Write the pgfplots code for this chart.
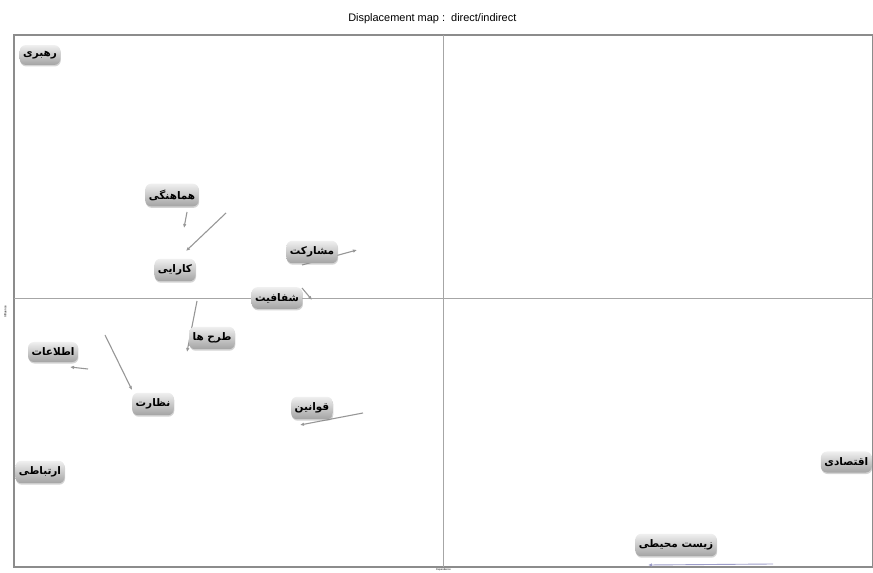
\documentclass[border=0pt]{standalone}
\usepackage{fontspec}
\setmainfont{Liberation Sans}
\newfontfamily\arabicfont[Script=Arabic]{DejaVu Sans}
\TeXXeTstate=1
\usepackage{pgfplots}
\pgfplotsset{compat=1.18}
\usetikzlibrary{shadows,arrows.meta}
\newcommand\ar[1]{{\arabicfont\bfseries\fontsize{10.5}{12}\selectfont\beginR #1\endR}}
\definecolor{boxc}{RGB}{140,140,140}
\definecolor{arrc}{RGB}{150,150,150}
\begin{document}
\begin{tikzpicture}[
  lbl/.style={draw=none, rounded corners=6pt, top color=gray!12, bottom color=gray!72,
    drop shadow={opacity=0.35, shadow xshift=0.5pt, shadow yshift=-1.5pt},
    inner xsep=3.5pt, inner ysep=6pt, text=black}]
\begin{axis}[
  scale only axis, width=859bp, height=532bp,
  xmin=0, xmax=859, ymin=0, ymax=532,
  axis line style={draw=boxc, line width=1.6pt},
  ticks=none, clip=false,
  title={Displacement map :\ \ direct/indirect},
  title style={font=\fontsize{11}{12}\selectfont, at={(axis description cs:0.487,1)}, yshift=2bp},
  xlabel={Dependence}, ylabel={Influence},
  xlabel style={font=\fontsize{2.6}{2.6}\selectfont, at={(axis description cs:0.5,0)}, anchor=north, inner sep=0pt, yshift=-1.2bp},
  ylabel style={font=\fontsize{3}{3}\selectfont, at={(axis description cs:0,0.48)}, anchor=south, yshift=4bp},
]
% cross lines
\addplot[gray!70, line width=0.8pt] coordinates {(429,0) (429,532)};
\addplot[gray!70, line width=0.8pt] coordinates {(0,269) (859,269)};
% displacement arrows (direct -> indirect)
\addplot[arrc, line width=1.1pt, -{Latex[length=4pt,width=3.5pt]}] coordinates {(173,355) (170,339)};
\addplot[arrc, line width=1.1pt, -{Latex[length=4pt,width=3.5pt]}] coordinates {(212,354) (172,316)};
\addplot[arrc, line width=1.1pt, -{Latex[length=4pt,width=3.5pt]}] coordinates {(288,302) (343,317)};
\addplot[arrc, line width=1.1pt, -{Latex[length=4pt,width=3.5pt]}] coordinates {(288,279) (298,267)};
\addplot[arrc, line width=1.1pt, -{Latex[length=4pt,width=3.5pt]}] coordinates {(183,266) (173,215)};
\addplot[arrc, line width=1.1pt, -{Latex[length=4pt,width=3.5pt]}] coordinates {(74,198) (56,200)};
\addplot[arrc, line width=1.1pt, -{Latex[length=4pt,width=3.5pt]}] coordinates {(91,232) (118,177)};
\addplot[arrc, line width=1.1pt, -{Latex[length=4pt,width=3.5pt]}] coordinates {(349,154) (286,142)};
\addplot[blue!30!gray!60, line width=0.9pt, -{Latex[length=4pt,width=3.5pt]}] coordinates {(759,3) (634,2)};
% labels
\addplot[draw=none] coordinates {(26,512)} node[lbl]{\ar{رهبری}};
\addplot[draw=none] coordinates {(158,372)} node[lbl]{\ar{هماهنگی}};
\addplot[draw=none] coordinates {(161,297)} node[lbl]{\ar{کارایی}};
\addplot[draw=none] coordinates {(298,315)} node[lbl]{\ar{مشارکت}};
\addplot[draw=none] coordinates {(263,269)} node[lbl]{\ar{شفافیت}};
\addplot[draw=none] coordinates {(198,229)} node[lbl]{\ar{طرح ها}};
\addplot[draw=none] coordinates {(39,215)} node[lbl]{\ar{اطلاعات}};
\addplot[draw=none] coordinates {(139,163)} node[lbl]{\ar{نظارت}};
\addplot[draw=none] coordinates {(298,159)} node[lbl]{\ar{قوانین}};
\addplot[draw=none] coordinates {(26,95)} node[lbl]{\ar{ارتباطی}};
\addplot[draw=none] coordinates {(858,105)} node[lbl, anchor=east]{\ar{اقتصادی}};
\addplot[draw=none] coordinates {(662,22)} node[lbl]{\ar{زیست محیطی}};
\end{axis}
\pgfresetboundingbox
\path[use as bounding box] ([xshift=-14bp,yshift=-6bp]current axis.south west) rectangle ([yshift=35bp]current axis.north east);
\end{tikzpicture}
\end{document}
